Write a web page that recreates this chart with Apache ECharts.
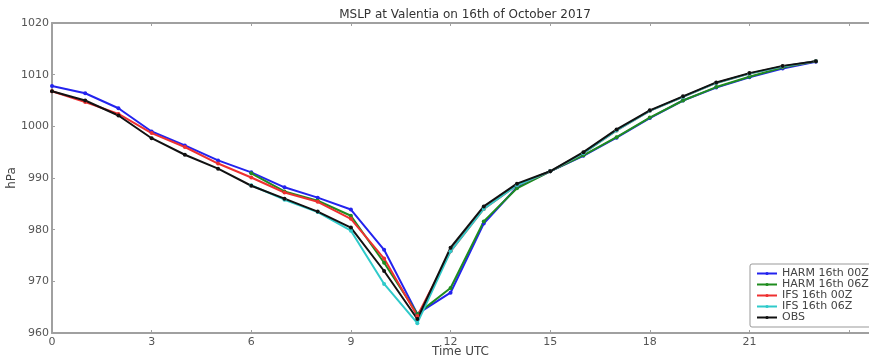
<!DOCTYPE html>
<html>
<head>
<meta charset="utf-8">
<script src="https://cdn.jsdelivr.net/npm/echarts@6/dist/echarts.min.js"></script>
<style>
  html, body { margin: 0; padding: 0; background: #fff; }
  #chart { width: 869px; height: 358px; }
</style>
</head>
<body>
<div id="chart"></div>
<script>
// hours of the day (UTC)
var hours = [0,1,2,3,4,5,6,7,8,9,10,11,12,13,14,15,16,17,18,19,20,21,22,23];

// MSLP (hPa), '-' = no forecast yet
var harm00 = [1007.8,1006.4,1003.5,999.0,996.3,993.4,991.1,988.2,986.2,983.9,976.1,963.7,967.8,981.2,988.2,991.3,994.3,997.8,1001.6,1005.0,1007.5,1009.5,1011.2,1012.5];
var harm06 = ['-','-','-','-','-','-',990.9,987.4,985.6,982.7,973.6,963.7,968.7,981.6,988.0,991.3,994.4,997.9,1001.7,1005.0,1007.6,1009.6,1011.4,1012.6];
var ifs00  = [1006.8,1004.7,1002.4,998.7,996.0,992.8,990.1,987.2,985.4,982.1,974.4,963.3,975.8,984.0,988.6,991.3,994.8,999.2,1003.0,1005.7,1008.4,1010.2,1011.6,1012.6];
var ifs06  = ['-','-','-','-','-','-',988.6,985.8,983.4,979.8,969.5,961.9,975.8,984.0,988.6,991.3,994.8,999.2,1003.0,1005.7,1008.4,1010.2,1011.6,1012.6];
var obs    = [1006.8,1005.0,1002.1,997.7,994.5,991.8,988.5,986.0,983.5,980.4,972.0,962.7,976.5,984.5,988.9,991.3,995.0,999.4,1003.1,1005.8,1008.5,1010.3,1011.7,1012.6];

var names  = ['HARM 16th 00Z','HARM 16th 06Z','IFS 16th 00Z','IFS 16th 06Z','OBS'];
var colors = ['#2323ee','#1f8c1f','#ee3030','#2fcaca','#111111'];
var values = [harm00, harm06, ifs00, ifs06, obs];

function pairs(arr) {
    var out = [];
    for (var i = 0; i < hours.length; i++) {
        if (arr[i] !== '-') out.push([hours[i], arr[i]]);
    }
    return out;
}

var font = 'DejaVu Sans';
var axisGrey = '#a0a0a0';

var series = [];
for (var i = 0; i < names.length; i++) {
    series.push({
        name: names[i],
        type: 'line',
        data: pairs(values[i]),
        symbol: 'circle',
        symbolSize: 4,
        lineStyle: {width: 2, color: colors[i]},
        itemStyle: {color: colors[i]},
        animation: false
    });
}

var myChart = echarts.init(document.getElementById('chart'));
var option = {
    backgroundColor: '#fff',
    title: {
        text: 'MSLP at Valentia on 16th of October 2017',
        left: 460,
        textAlign: 'center',
        top: 4,
        textStyle: {fontFamily: font, fontSize: 12, fontWeight: 'normal', color: '#333'}
    },
    legend: {
        orient: 'vertical',
        left: 750,
        top: 264,
        padding: [4, 6, 4, 6],
        itemGap: 0,
        itemWidth: 20,
        itemHeight: 4,
        borderColor: '#999',
        borderWidth: 1,
        borderRadius: 2,
        textStyle: {fontFamily: font, fontSize: 11, color: '#444', lineHeight: 11},
        data: names
    },
    grid: {left: 52, top: 23, right: 0, bottom: 25, outerBoundsMode: 'none'},
    xAxis: [{
        type: 'value',
        min: 0,
        max: 24.6,
        interval: 3,
        name: 'Time UTC',
        nameLocation: 'middle',
        nameGap: 13,
        nameMoveOverlap: false,
        nameTextStyle: {fontFamily: font, fontSize: 12, color: '#444'},
        axisLine: {lineStyle: {color: axisGrey, width: 2}},
        axisTick: {inside: true, length: 3, lineStyle: {color: axisGrey}},
        axisLabel: {
            fontFamily: font, fontSize: 11, color: '#555', margin: 4,
            formatter: function (v) { return v > 21 ? '' : v; }
        },
        splitLine: {show: false}
    }, {
        type: 'value',
        position: 'top',
        min: 0,
        max: 24.6,
        interval: 3,
        axisLine: {lineStyle: {color: axisGrey, width: 2}},
        axisTick: {inside: true, length: 3, lineStyle: {color: axisGrey}},
        axisLabel: {show: false},
        splitLine: {show: false}
    }],
    yAxis: {
        type: 'value',
        min: 960,
        max: 1020,
        interval: 10,
        name: 'hPa',
        nameLocation: 'middle',
        nameGap: 34,
        nameMoveOverlap: false,
        nameTextStyle: {fontFamily: font, fontSize: 12, color: '#444'},
        axisLine: {show: true, lineStyle: {color: axisGrey, width: 2}},
        axisTick: {show: true, inside: true, length: 3, lineStyle: {color: axisGrey}},
        axisLabel: {
            fontFamily: font, fontSize: 11, color: '#555', margin: 3,
            formatter: function (v) { return String(v); }
        },
        splitLine: {show: false}
    },
    series: series
};
myChart.setOption(option);
</script>
</body>
</html>
